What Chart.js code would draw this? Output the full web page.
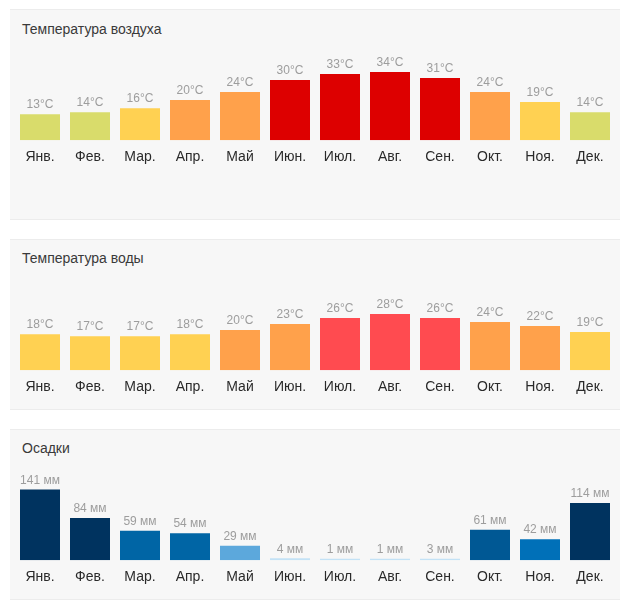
<!DOCTYPE html>
<html>
<head>
<meta charset="utf-8">
<script src="https://cdn.jsdelivr.net/npm/chart.js@4"></script>
<style>
  body { margin: 0; background: #fff; font-family: "Liberation Sans", Arial, sans-serif; }
  .panel { position: absolute; left: 10px; width: 610px; background: #f7f7f7;
           border-top: 1px solid #ececec; border-bottom: 1px solid #ececec; box-sizing: border-box; }
  .title { position: absolute; left: 22px; font-size: 14px; line-height: 16px; color: #3a3a3a; }
  canvas { position: absolute; left: 10px; }
</style>
</head>
<body>
<div class="panel" style="top:9px;height:211px"></div>
<div class="panel" style="top:239px;height:171px"></div>
<div class="panel" style="top:429px;height:171px"></div>
<div class="title" style="top:21px">Температура воздуха</div>
<div class="title" style="top:250px">Температура воды</div>
<div class="title" style="top:440px">Осадки</div>
<canvas id="air" width="610" height="135" style="top:40px"></canvas>
<canvas id="water" width="610" height="135" style="top:270px"></canvas>
<canvas id="rain" width="610" height="135" style="top:460px"></canvas>
<script>
const months = ["Янв.", "Фев.", "Мар.", "Апр.", "Май", "Июн.", "Июл.", "Авг.", "Сен.", "Окт.", "Ноя.", "Дек."];
const airTemp = [13, 14, 16, 20, 24, 30, 33, 34, 31, 24, 19, 14];
const waterTemp = [18, 17, 17, 18, 20, 23, 26, 28, 26, 24, 22, 19];
const rain = [141, 84, 59, 54, 29, 4, 1, 1, 3, 61, 42, 114];

const airColors = ["#d9dc6b", "#d9dc6b", "#ffd152", "#ffa14b", "#ffa14b", "#dd0000",
                   "#dd0000", "#dd0000", "#dd0000", "#ffa14b", "#ffd152", "#d9dc6b"];
const waterColors = ["#ffd152", "#ffd152", "#ffd152", "#ffd152", "#ffa14b", "#ffa14b",
                     "#ff4b50", "#ff4b50", "#ff4b50", "#ffa14b", "#ffa14b", "#ffd152"];
const rainColors = ["#00335f", "#00335f", "#0065a5", "#0065a5", "#5ca8dc", "#c3e2f6",
                    "#c3e2f6", "#c3e2f6", "#c3e2f6", "#005894", "#0070b8", "#00335f"];

const valueLabels = {
  id: "valueLabels",
  afterDatasetsDraw(chart) {
    const ctx = chart.ctx;
    const unit = chart.options.unit;
    const meta = chart.getDatasetMeta(0);
    ctx.save();
    ctx.font = "12px 'Liberation Sans', Arial, sans-serif";
    ctx.fillStyle = "#9d9d9d";
    ctx.textAlign = "center";
    ctx.textBaseline = "bottom";
    meta.data.forEach((bar, i) => {
      ctx.fillText(chart.data.datasets[0].data[i] + unit, bar.x, bar.y - 3);
    });
    ctx.restore();
  }
};

function makeChart(id, values, colors, max, unit) {
  new Chart(id, {
    type: "bar",
    data: {
      labels: months,
      datasets: [{
        data: values,
        backgroundColor: colors,
        barPercentage: 0.8,
        categoryPercentage: 1,
        minBarLength: 1.5
      }]
    },
    options: {
      unit: unit,
      responsive: false,
      animation: false,
      layout: { padding: { left: 5, right: 5, top: 0, bottom: 0 } },
      plugins: { legend: { display: false }, tooltip: { enabled: false } },
      scales: {
        x: {
          grid: { display: false, drawTicks: false },
          border: { display: false },
          ticks: { color: "#2a2a2a", padding: 9, font: { size: 14, family: "'Liberation Sans', Arial, sans-serif" } }
        },
        y: { display: false, min: 0, max: max }
      }
    },
    plugins: [valueLabels]
  });
}

makeChart("air", airTemp, airColors, 50, "°C");
makeChart("water", waterTemp, waterColors, 50, "°C");
makeChart("rain", rain, rainColors, 200, " мм");
</script>
</body>
</html>
